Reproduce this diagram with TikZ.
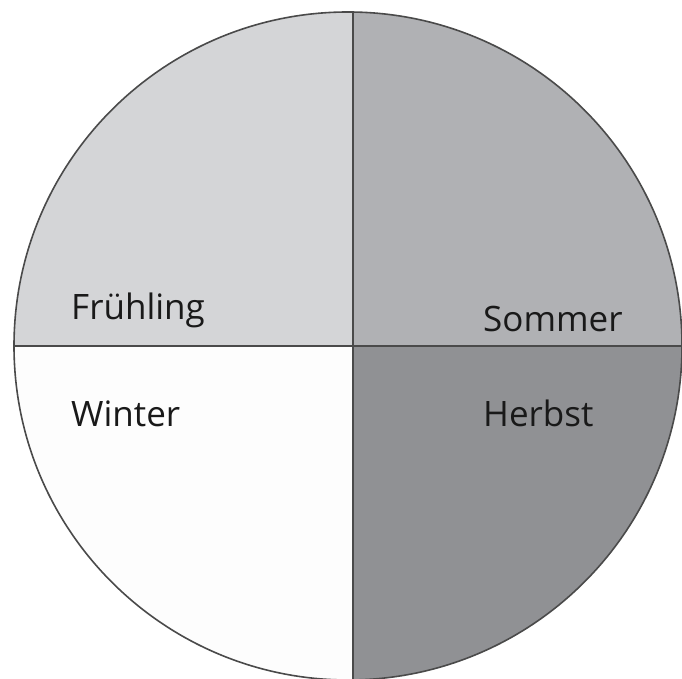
\documentclass[tikz,border=0pt]{standalone}
\usepackage{fontspec}
\setmainfont{Open Sans}
\definecolor{spring}{HTML}{D4D5D7}
\definecolor{summer}{HTML}{B0B1B4}
\definecolor{autumn}{HTML}{909194}
\definecolor{winter}{HTML}{FDFDFD}
\definecolor{rim}{HTML}{4A4A4A}
\tikzset{season/.style={anchor=base west, font=\fontsize{35}{42}\selectfont, text=black!90, inner sep=0pt}}
\begin{document}
\begin{tikzpicture}[x=1pt,y=1pt]
\useasboundingbox (0,0) rectangle (682,679);
\clip (0,0) rectangle (682,679);
\coordinate (c) at (348,333);
\begin{scope}
\clip (c) circle (334);
\fill[spring] (0,333) rectangle (353,679);
\fill[summer] (353,333) rectangle (682,679);
\fill[winter] (0,0) rectangle (353,333);
\fill[autumn] (353,0) rectangle (682,333);
\draw[rim, line width=2.2pt] (0,333) -- (682,333);
\draw[rim, line width=2.2pt] (353,0) -- (353,679);
\end{scope}
\draw[rim, line width=1.6pt] (c) circle (334);
\node[season] (fr) at (71,359) {Frühling};
\node[season] (so) at (483,347) {Sommer};
\node[season] (wi) at (71,252) {Winter};
\node[season] (he) at (483,252) {Herbst};
\end{tikzpicture}
\end{document}
